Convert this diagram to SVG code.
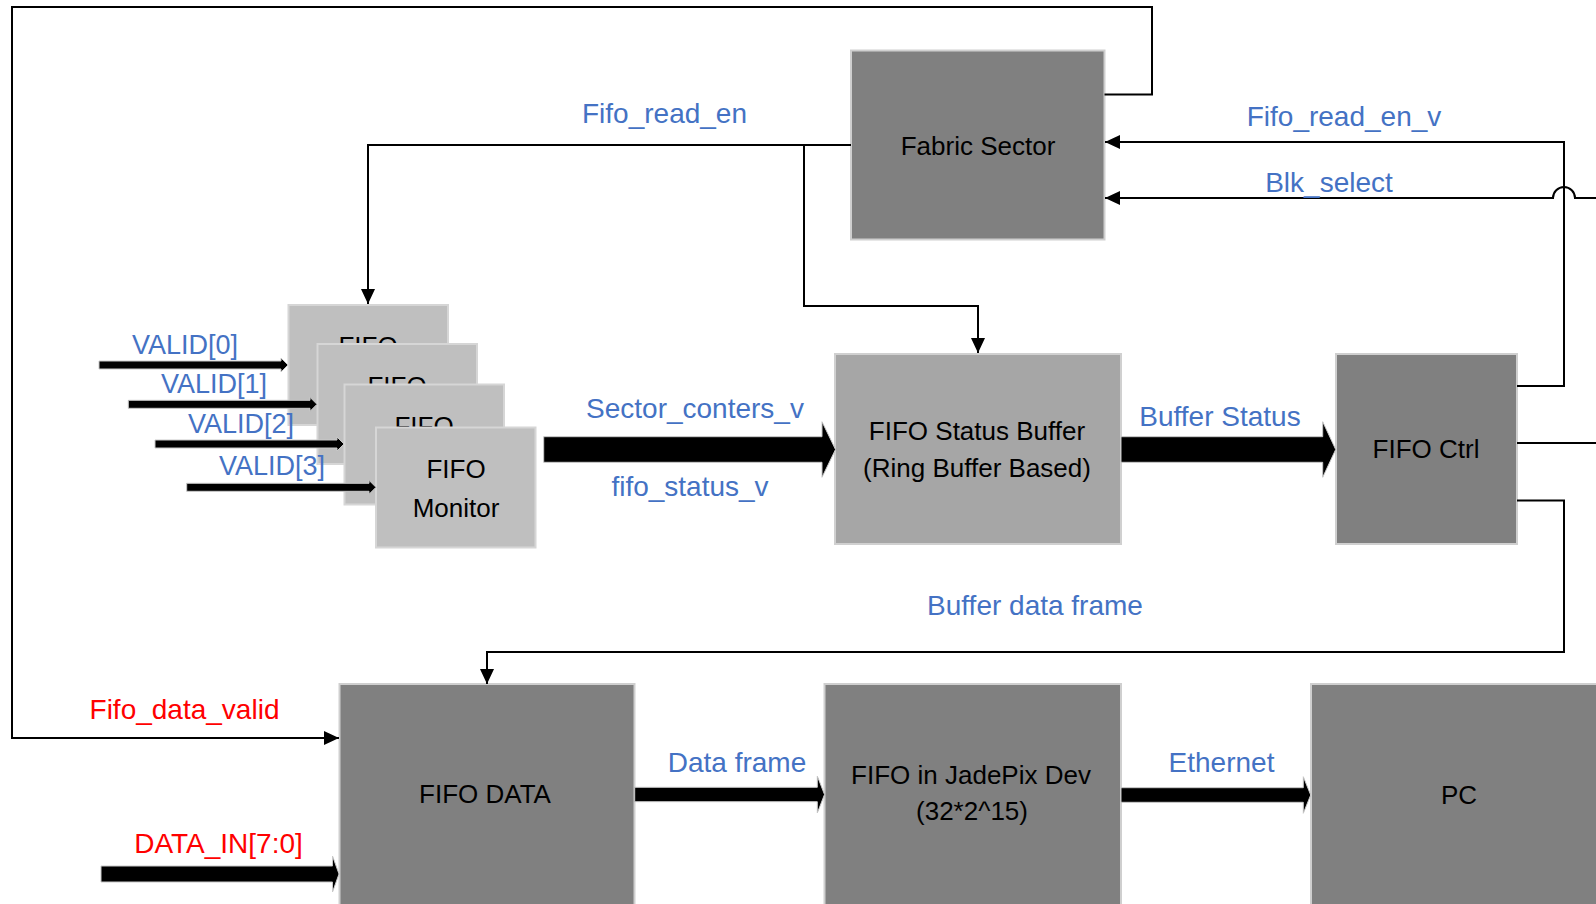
<svg xmlns="http://www.w3.org/2000/svg" width="1596" height="904" viewBox="0 0 1596 904">
<style>
text{font-family:"Liberation Sans",Arial,sans-serif}
.lbl{fill:#4472c4;font-size:28px;text-anchor:middle}
.red{fill:#ff0000;font-size:28px;text-anchor:middle}
.val{fill:#4472c4;font-size:27px;text-anchor:middle}
.bt{fill:#000;font-size:26px;text-anchor:middle}
.dark{fill:#808080;stroke:#cfcfcf;stroke-width:2}
.mid{fill:#a6a6a6;stroke:#d0d0d0;stroke-width:2}
.light{fill:#bfbfbf;stroke:#d6d6d6;stroke-width:2}
.wire{fill:none;stroke:#000;stroke-width:2}
.blk{fill:#000;stroke:#c8c8c8;stroke-width:1}
</style>
<defs>
<marker id="ah" markerUnits="userSpaceOnUse" markerWidth="16" markerHeight="16" refX="15" refY="7" orient="auto">
<path d="M0,0 L15,7 L0,14 Z" fill="#000"/>
</marker>
</defs>

<g id="fabric-sector">
<rect class="dark" x="851" y="50.5" width="253.5" height="189"/>
<text class="bt" x="978" y="155" font-size="27">Fabric Sector</text>
</g>

<g id="fifo-monitor-0">
<rect class="light" x="288.5" y="305" width="159.5" height="120"/>
<text class="bt" x="368" y="355">FIFO</text>
</g>
<g id="fifo-monitor-1">
<rect class="light" x="317.5" y="344" width="159.5" height="120"/>
<text class="bt" x="397" y="394.5">FIFO</text>
</g>
<g id="fifo-monitor-2">
<rect class="light" x="344.5" y="384.5" width="159.5" height="120"/>
<text class="bt" x="424" y="435">FIFO</text>
</g>
<g id="fifo-monitor-3">
<rect class="light" x="376" y="427.5" width="159.5" height="120"/>
<text class="bt" x="456" y="478">FIFO</text>
<text class="bt" x="456" y="516.5">Monitor</text>
</g>

<g id="fifo-status-buffer">
<rect class="mid" x="835" y="354" width="286" height="190"/>
<text class="bt" x="977" y="440">FIFO Status Buffer</text>
<text class="bt" x="977" y="477">(Ring Buffer Based)</text>
</g>

<g id="fifo-ctrl">
<rect class="dark" x="1336" y="354" width="181" height="190"/>
<text class="bt" x="1426" y="458">FIFO Ctrl</text>
</g>

<g id="fifo-data">
<rect class="dark" x="339.5" y="684" width="295" height="240"/>
<text class="bt" x="485" y="803">FIFO DATA</text>
</g>

<g id="fifo-jadepix">
<rect class="dark" x="824.5" y="684" width="296.5" height="240"/>
<text class="bt" x="971" y="784">FIFO in JadePix Dev</text>
<text class="bt" x="972" y="820">(32*2^15)</text>
</g>

<g id="pc">
<rect class="dark" x="1311" y="684" width="300" height="240"/>
<text class="bt" x="1459" y="804">PC</text>
</g>

<g id="connectors">
<path class="wire" d="M851,145 H368 V304" marker-end="url(#ah)"/>
<path class="wire" d="M804,145 V306 H978 V353" marker-end="url(#ah)"/>
<path class="wire" d="M1104.5,94.5 H1152 V7 H12 V738 H339" marker-end="url(#ah)"/>
<path class="wire" d="M1517,386 H1564 V142 H1105" marker-end="url(#ah)"/>
<path class="wire" d="M1596,198 H1575 A11,11 0 0 0 1553,198 H1105" marker-end="url(#ah)"/>
<path class="wire" d="M1517,443 H1596"/>
<path class="wire" d="M1517,500.5 H1564 V652 H487 V684" marker-end="url(#ah)"/>

<path class="blk" d="M543.7,436.7 H822 V421.7 L835.5,449.5 L822,477.3 V462.3 H543.7 Z"/>
<path class="blk" d="M1121,436.7 H1322.7 V421.7 L1335.7,449.5 L1322.7,477.3 V462.3 H1121 Z"/>
<path class="blk" d="M634.7,787.3 H817.3 V776 L824.5,794.5 L817.3,813 V801.7 H634.7 Z"/>
<path class="blk" d="M1121,787.7 H1303.3 V776.7 L1310.7,795 L1303.3,813.3 V802.3 H1121 Z"/>
<path class="blk" d="M101,866 H332.5 V856 L339,874 L332.5,892 V882 H101 Z"/>

<path class="blk" d="M99,361 H281 V358 L288,365 L281,372 V369 H99 Z"/>
<path class="blk" d="M128.3,400.3 H310 V397.3 L317,404.3 L310,411.3 V408.3 H128.3 Z"/>
<path class="blk" d="M155,440 H337 V437 L344,444 L337,451 V448 H155 Z"/>
<path class="blk" d="M186.7,483.3 H369 V480.3 L376,487.3 L369,494.3 V491.3 H186.7 Z"/>
</g>

<g id="labels">
<text class="lbl" x="664.5" y="123">Fifo_read_en</text>
<text class="lbl" x="1344" y="125.5">Fifo_read_en_v</text>
<text class="lbl" x="1329" y="192">Blk_select</text>
<text class="lbl" x="695" y="418">Sector_conters_v</text>
<text class="lbl" x="690" y="496">fifo_status_v</text>
<text class="lbl" x="1220" y="426">Buffer Status</text>
<text class="lbl" x="1035" y="615">Buffer data frame</text>
<text class="lbl" x="737" y="771.5">Data frame</text>
<text class="lbl" x="1221.5" y="771.5">Ethernet</text>
<text class="val" x="185" y="354">VALID[0]</text>
<text class="val" x="214" y="393">VALID[1]</text>
<text class="val" x="241" y="432.5">VALID[2]</text>
<text class="val" x="272" y="475">VALID[3]</text>
<text class="red" x="184.5" y="719">Fifo_data_valid</text>
<text class="red" x="218.5" y="853">DATA_IN[7:0]</text>
</g>
</svg>
